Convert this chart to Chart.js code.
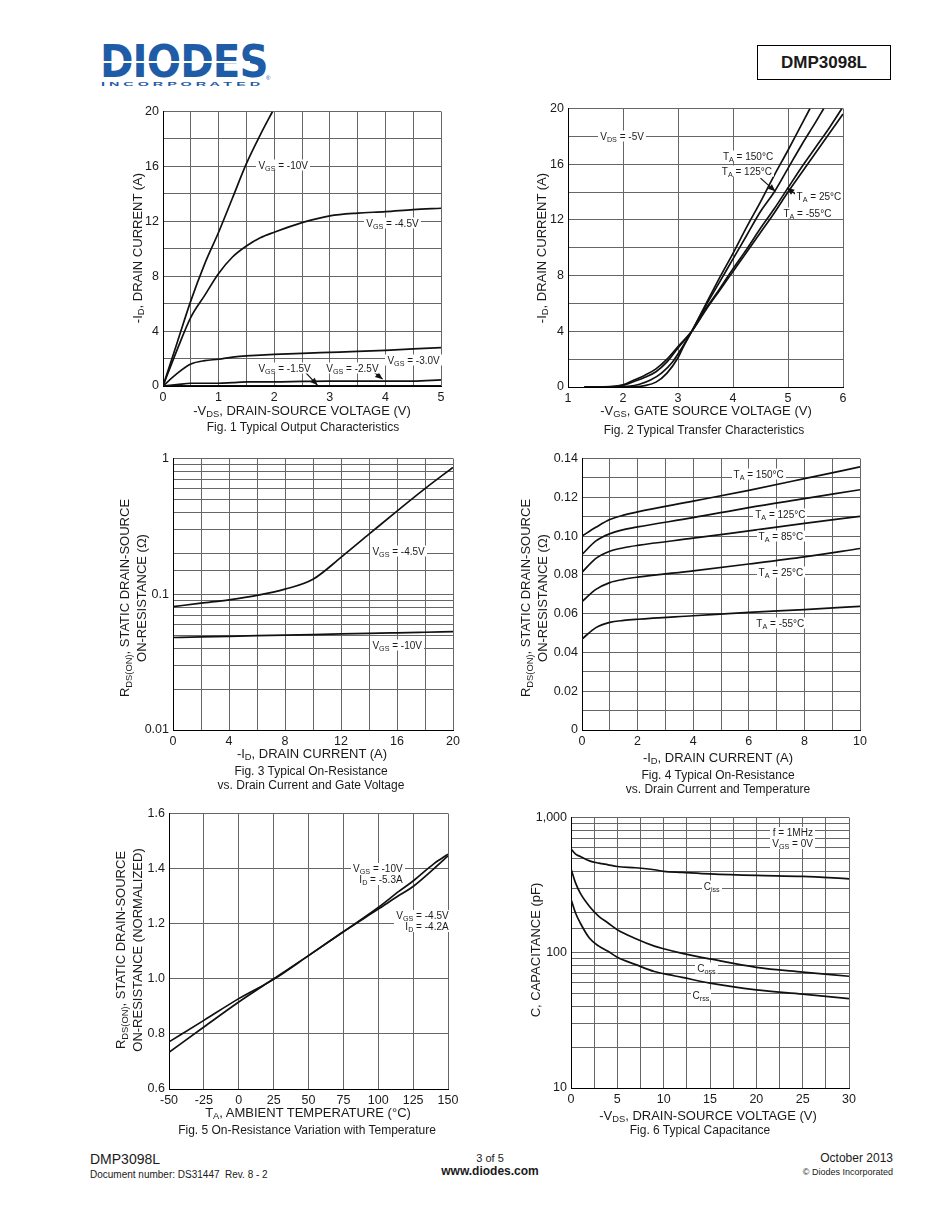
<!DOCTYPE html>
<html>
<head>
<meta charset="utf-8">
<script src="https://cdn.jsdelivr.net/npm/chart.js@4.4.0/dist/chart.umd.min.js"></script>
<style>
body { margin: 0; background: #fff; }
#page { position: relative; width: 950px; height: 1230px; font-family: "Liberation Sans", Arial, sans-serif; color: #1a1a1a; overflow: hidden; }
.t { position: absolute; white-space: nowrap; line-height: 1.15; }
canvas { position: absolute; }
.ann { position: absolute; font-size: 10px; background: #fff; padding: 0 2px; white-space: nowrap; line-height: 11px; }
sub { font-size: 0.72em; vertical-align: -0.3em; line-height: 0; }
</style>
</head>
<body>
<div id="page"></div>
<script>
// ---- Fig. 1 Typical Output Characteristics ----
const fig1VdsA = [0, 0.25, 0.5, 0.75, 1, 1.25, 1.5, 1.75, 1.97];
const fig1Id10 = [0, 3.1, 6.2, 8.9, 11.2, 13.7, 16.2, 18.3, 20];
const fig1Vds = [0, 0.25, 0.5, 0.75, 1, 1.25, 1.5, 1.75, 2, 2.5, 3, 3.5, 4, 4.5, 5];
const fig1Id45 = [0, 2.6, 5.0, 6.6, 8.2, 9.4, 10.2, 10.8, 11.2, 11.9, 12.4, 12.6, 12.7, 12.85, 12.95];
const fig1Id30 = [0, 0.9, 1.6, 1.85, 1.95, 2.1, 2.2, 2.25, 2.3, 2.38, 2.45, 2.52, 2.6, 2.7, 2.8];
const fig1Id25 = [0, 0.1, 0.2, 0.2, 0.2, 0.25, 0.3, 0.3, 0.3, 0.33, 0.35, 0.35, 0.35, 0.36, 0.45];
const fig1Id15 = [0, 0.01, 0.01, 0.01, 0.01, 0.01, 0.01, 0.01, 0.01, 0.01, 0.01, 0.01, 0.01, 0.01, 0.01];

// ---- Fig. 2 Typical Transfer Characteristics ----
const fig2Vgs150 = [1.3, 1.8, 2.2, 2.4, 2.6, 2.8, 3.0, 3.1, 3.25, 3.5, 3.75, 4.0, 4.25, 4.5, 4.75, 5.0, 5.2, 5.4];
const fig2Id150 = [0, 0, 0.02, 0.1, 0.35, 1.0, 2.1, 2.9, 4.0, 5.9, 7.8, 9.6, 11.5, 13.3, 15.2, 17.0, 18.5, 20];
const fig2Vgs125 = [1.3, 1.8, 2.1, 2.3, 2.5, 2.7, 2.9, 3.1, 3.25, 3.5, 3.75, 4.0, 4.25, 4.5, 4.75, 5.0, 5.25, 5.5, 5.65];
const fig2Id125 = [0, 0, 0.05, 0.2, 0.5, 1.0, 1.8, 3.0, 4.0, 5.8, 7.5, 9.2, 10.9, 12.6, 14.0, 15.7, 17.4, 19.0, 20];
const fig2Vgs25 = [1.3, 1.8, 2.0, 2.2, 2.4, 2.6, 2.8, 3.0, 3.25, 3.5, 3.75, 4.0, 4.25, 4.5, 4.75, 5.0, 5.25, 5.5, 5.75, 5.98];
const fig2Id25 = [0, 0.02, 0.12, 0.4, 0.7, 1.1, 1.8, 2.8, 4.0, 5.6, 7.0, 8.5, 9.9, 11.4, 12.8, 14.3, 15.8, 17.2, 18.6, 20];
const fig2VgsM55 = [1.3, 1.8, 2.0, 2.2, 2.4, 2.6, 2.8, 3.0, 3.25, 3.5, 3.75, 4.0, 4.25, 4.5, 4.75, 5.0, 5.25, 5.5, 5.75, 6.0];
const fig2IdM55 = [0, 0.03, 0.15, 0.5, 0.85, 1.3, 2.0, 2.9, 4.0, 5.5, 6.9, 8.3, 9.7, 11.1, 12.5, 14.0, 15.4, 16.8, 18.2, 19.6];

// ---- Fig. 3 On-Resistance vs Drain Current and Gate Voltage ----
const fig3Id = [0, 2, 4, 6, 8, 10, 12, 14, 16, 18, 20];
const fig3R45 = [0.081, 0.086, 0.091, 0.098, 0.109, 0.129, 0.187, 0.277, 0.41, 0.60, 0.86];
const fig3R10 = [0.048, 0.0485, 0.049, 0.0495, 0.050, 0.0505, 0.051, 0.0515, 0.052, 0.0525, 0.053];

// ---- Fig. 4 On-Resistance vs Drain Current and Temperature ----
const fig4Id = [0, 0.5, 1, 1.5, 2, 4, 6, 8, 10];
const fig4R150 = [0.100, 0.1045, 0.1085, 0.1108, 0.1125, 0.118, 0.1236, 0.1296, 0.1357];
const fig4R125 = [0.0905, 0.0975, 0.1012, 0.1033, 0.1047, 0.1095, 0.1147, 0.1193, 0.1239];
const fig4R85 = [0.0813, 0.0885, 0.0922, 0.094, 0.0952, 0.0989, 0.1027, 0.1065, 0.1102];
const fig4R25 = [0.0662, 0.0725, 0.076, 0.0777, 0.0788, 0.0821, 0.0856, 0.0893, 0.0936];
const fig4RM55 = [0.0469, 0.0528, 0.0555, 0.0565, 0.0571, 0.0589, 0.0607, 0.0621, 0.0638];

// ---- Fig. 5 On-Resistance Variation with Temperature ----
const fig5Temp = [-50, -25, 0, 25, 50, 75, 100, 115, 125, 140, 150];
const fig5R10 = [0.771, 0.849, 0.928, 0.998, 1.084, 1.171, 1.259, 1.318, 1.355, 1.418, 1.452];
const fig5R45 = [0.733, 0.825, 0.916, 1.0, 1.084, 1.171, 1.253, 1.303, 1.335, 1.40, 1.446];

// ---- Fig. 6 Typical Capacitance ----
const fig6Vds = [0, 0.5, 1, 2, 3, 4, 5, 7, 9, 10, 12, 15, 20, 25, 30];
const fig6Ciss = [587, 536, 515, 478, 460, 447, 434, 425, 411, 400, 393, 383, 373, 367, 352];
const fig6Coss = [418, 327, 276, 220, 186, 166, 148, 127, 112, 107, 99, 90, 78, 72, 67];
const fig6Crss = [249, 196, 166, 128, 112, 102.6, 92.6, 81.7, 72.6, 70, 65.7, 59.6, 53.2, 49.5, 45.8];

const page = document.getElementById('page');
const TICK_FONT = { family: 'Liberation Sans, Arial, sans-serif', size: 12.5 };
const GRID = '#666';

function txt(html, x, y, size, anchor, extra) {
    const d = document.createElement('div');
    d.className = 't';
    d.innerHTML = html;
    d.style.left = x + 'px';
    d.style.top = y + 'px';
    d.style.fontSize = size + 'px';
    let tr = 'translateY(-50%)';
    if (anchor === 'c') tr = 'translate(-50%,-50%)';
    if (anchor === 'r') tr = 'translate(-100%,-50%)';
    if (anchor === 'v') { tr = 'translate(-50%,-50%) rotate(-90deg)'; d.style.textAlign = 'center'; d.style.lineHeight = '17px'; }
    d.style.transform = tr;
    if (extra) Object.assign(d.style, extra);
    page.appendChild(d);
    return d;
}

const near = (v, s) => Math.abs(v / s - Math.round(v / s)) < 1e-6;
const isDecade = v => near(Math.log10(v), 1);

function zip(xs, ys) { return xs.map((x, i) => ({ x: x, y: ys[i] })); }

function plot(o) {
    const W = o.r - o.l + 70, H = o.b - o.t + 32;
    const cv = document.createElement('canvas');
    cv.width = W; cv.height = H;
    cv.style.left = (o.l - 55) + 'px';
    cv.style.top = (o.t - 10) + 'px';
    page.appendChild(cv);

    const arrowPlugin = {
        id: 'arrows',
        afterDatasetsDraw(c) {
            const g = c.ctx, sx = c.scales.x, sy = c.scales.y;
            g.save();
            g.strokeStyle = '#111'; g.fillStyle = '#111'; g.lineWidth = 1.2;
            (o.arrows || []).forEach(a => {
                const x1 = sx.getPixelForValue(a[0]), y1 = sy.getPixelForValue(a[1]);
                const x2 = sx.getPixelForValue(a[2]), y2 = sy.getPixelForValue(a[3]);
                const ang = Math.atan2(y2 - y1, x2 - x1);
                g.beginPath(); g.moveTo(x1, y1); g.lineTo(x2, y2); g.stroke();
                g.beginPath();
                g.moveTo(x2, y2);
                g.lineTo(x2 - 8 * Math.cos(ang - 0.4), y2 - 8 * Math.sin(ang - 0.4));
                g.lineTo(x2 - 8 * Math.cos(ang + 0.4), y2 - 8 * Math.sin(ang + 0.4));
                g.closePath(); g.fill();
            });
            g.restore();
        }
    };

    const axis = (a, fit) => Object.assign({
        grid: { color: GRID, lineWidth: 1, drawTicks: false },
        border: { color: '#000', width: 1 },
        afterFit: fit
    }, a, {
        ticks: Object.assign({ font: TICK_FONT, color: '#1a1a1a', padding: 4, autoSkip: false, maxRotation: 0 }, a.ticks)
    });

    const chart = new Chart(cv, {
        type: 'line',
        data: {
            datasets: o.series.map(s => ({
                data: zip(s[0], s[1]),
                borderColor: '#111',
                borderWidth: 1.7,
                pointRadius: 0,
                cubicInterpolationMode: 'monotone',
                fill: false
            }))
        },
        options: {
            responsive: false,
            animation: false,
            layout: { padding: { top: 10, right: 15, left: 0, bottom: 0 } },
            plugins: { legend: { display: false }, tooltip: { enabled: false } },
            scales: {
                x: axis(o.x, s => { s.height = 22; }),
                y: axis(o.y, s => { s.width = 55; })
            }
        },
        plugins: [arrowPlugin]
    });

    const ox = o.l - 55, oy = o.t - 10;
    (o.notes || []).forEach(n => {
        const d = document.createElement('div');
        d.className = 'ann';
        d.innerHTML = n[2];
        d.style.left = (ox + chart.scales.x.getPixelForValue(n[0])) + 'px';
        d.style.top = (oy + chart.scales.y.getPixelForValue(n[1])) + 'px';
        d.style.transform = 'translateY(-50%)';
        if (n[3]) d.style.textAlign = n[3];
        page.appendChild(d);
    });
    return chart;
}

// Fig. 1
plot({
    l: 163, t: 110, r: 441, b: 386,
    x: { type: 'linear', min: 0, max: 5, ticks: { stepSize: 0.5, callback: v => near(v, 1) ? Math.round(v) : '' } },
    y: { type: 'linear', min: 0, max: 20, ticks: { stepSize: 2, callback: v => near(v, 4) ? Math.round(v) : '' } },
    series: [[fig1VdsA, fig1Id10], [fig1Vds, fig1Id45], [fig1Vds, fig1Id30], [fig1Vds, fig1Id25], [fig1Vds, fig1Id15]],
    notes: [
        [1.68, 16.1, 'V<sub>GS</sub> = -10V'],
        [3.62, 11.85, 'V<sub>GS</sub> = -4.5V'],
        [4.0, 1.9, 'V<sub>GS</sub> = -3.0V'],
        [1.68, 1.3, 'V<sub>GS</sub> = -1.5V'],
        [2.9, 1.3, 'V<sub>GS</sub> = -2.5V']
    ],
    arrows: [[2.55, 1.05, 2.78, 0.05], [3.78, 1.05, 3.95, 0.5]]
});

// Fig. 2
plot({
    l: 568, t: 107, r: 843, b: 387,
    x: { type: 'linear', min: 1, max: 6, ticks: { stepSize: 1 } },
    y: { type: 'linear', min: 0, max: 20, ticks: { stepSize: 2, callback: v => near(v, 4) ? Math.round(v) : '' } },
    series: [[fig2Vgs150, fig2Id150], [fig2Vgs125, fig2Id125], [fig2Vgs25, fig2Id25], [fig2VgsM55, fig2IdM55]],
    notes: [
        [1.55, 18.0, 'V<sub>DS</sub> = -5V'],
        [3.78, 16.6, 'T<sub>A</sub> = 150°C'],
        [3.76, 15.5, 'T<sub>A</sub> = 125°C'],
        [5.12, 13.7, 'T<sub>A</sub> = 25°C'],
        [4.88, 12.5, 'T<sub>A</sub> = -55°C']
    ],
    arrows: [[4.5, 15.0, 4.77, 14.05], [5.15, 13.8, 4.98, 14.3]]
});

// Fig. 3
plot({
    l: 173, t: 457, r: 453, b: 730,
    x: { type: 'linear', min: 0, max: 20, ticks: { stepSize: 2, callback: v => near(v, 4) ? Math.round(v) : '' } },
    y: { type: 'logarithmic', min: 0.01, max: 1, ticks: { callback: v => isDecade(v) ? String(+v.toPrecision(1)) : '' } },
    series: [[fig3Id, fig3R45], [fig3Id, fig3R10]],
    notes: [
        [14.1, 0.207, 'V<sub>GS</sub> = -4.5V'],
        [14.1, 0.042, 'V<sub>GS</sub> = -10V']
    ]
});

// Fig. 4
plot({
    l: 582, t: 457, r: 860, b: 730,
    x: { type: 'linear', min: 0, max: 10, ticks: { stepSize: 1, callback: v => near(v, 2) ? Math.round(v) : '' } },
    y: { type: 'linear', min: 0, max: 0.14, ticks: { stepSize: 0.01, callback: v => near(v, 0.02) ? (Math.abs(v) < 1e-9 ? '0' : v.toFixed(2)) : '' } },
    series: [[fig4Id, fig4R150], [fig4Id, fig4R125], [fig4Id, fig4R85], [fig4Id, fig4R25], [fig4Id, fig4RM55]],
    notes: [
        [5.38, 0.132, 'T<sub>A</sub> = 150°C'],
        [6.16, 0.1116, 'T<sub>A</sub> = 125°C'],
        [6.28, 0.0999, 'T<sub>A</sub> = 85°C'],
        [6.28, 0.0813, 'T<sub>A</sub> = 25°C'],
        [6.2, 0.0551, 'T<sub>A</sub> = -55°C']
    ]
});

// Fig. 5
plot({
    l: 169, t: 812, r: 448, b: 1089,
    x: { type: 'linear', min: -50, max: 150, ticks: { stepSize: 25 } },
    y: { type: 'linear', min: 0.6, max: 1.6, ticks: { stepSize: 0.2, callback: v => v.toFixed(1) } },
    series: [[fig5Temp, fig5R10], [fig5Temp, fig5R45]],
    notes: [
        [80.5, 1.38, 'V<sub>GS</sub> = -10V<br>I<sub>D</sub> = -5.3A', 'right'],
        [111.5, 1.21, 'V<sub>GS</sub> = -4.5V<br>I<sub>D</sub> = -4.2A', 'right']
    ]
});

// Fig. 6
plot({
    l: 571, t: 816, r: 849, b: 1088,
    x: { type: 'linear', min: 0, max: 30, ticks: { stepSize: 2.5, callback: v => near(v, 5) ? Math.round(v) : '' } },
    y: { type: 'logarithmic', min: 10, max: 1000, ticks: { callback: v => isDecade(v) ? (v >= 1000 ? '1,000' : String(Math.round(v))) : '' } },
    series: [[fig6Vds, fig6Ciss], [fig6Vds, fig6Coss], [fig6Vds, fig6Crss]],
    notes: [
        [21.5, 700, 'f = 1MHz<br>V<sub>GS</sub> = 0V', 'right'],
        [14.1, 309, 'C<sub>iss</sub>'],
        [13.4, 77, 'C<sub>oss</sub>'],
        [12.9, 49, 'C<sub>rss</sub>']
    ]
});

// axis titles and captions
txt('-V<sub>DS</sub>, DRAIN-SOURCE VOLTAGE (V)', 302, 411, 13, 'c');
txt('Fig. 1 Typical Output Characteristics', 303, 428, 12, 'c');
txt('-I<sub>D</sub>, DRAIN CURRENT (A)', 137, 248, 13, 'v');

txt('-V<sub>GS</sub>, GATE SOURCE VOLTAGE (V)', 706, 411, 13, 'c');
txt('Fig. 2 Typical Transfer Characteristics', 704, 431, 12, 'c');
txt('-I<sub>D</sub>, DRAIN CURRENT (A)', 541, 248, 13, 'v');

txt('R<sub>DS(ON)</sub>, STATIC DRAIN-SOURCE<br>ON-RESISTANCE (Ω)', 133, 598, 13, 'v');
txt('-I<sub>D</sub>, DRAIN CURRENT (A)', 312, 754, 13, 'c');
txt('Fig. 3 Typical On-Resistance', 311, 772, 12, 'c');
txt('vs. Drain Current and Gate Voltage', 311, 786, 12, 'c');

txt('R<sub>DS(ON)</sub>, STATIC DRAIN-SOURCE<br>ON-RESISTANCE (Ω)', 534, 598, 13, 'v');
txt('-I<sub>D</sub>, DRAIN CURRENT (A)', 718, 758, 13, 'c');
txt('Fig. 4 Typical On-Resistance', 718, 776, 12, 'c');
txt('vs. Drain Current and Temperature', 718, 790, 12, 'c');

txt('R<sub>DS(ON)</sub>, STATIC DRAIN-SOURCE<br>ON-RESISTANCE (NORMALIZED)', 129, 950, 13, 'v');
txt('T<sub>A</sub>, AMBIENT TEMPERATURE (°C)', 308, 1113, 13, 'c');
txt('Fig. 5 On-Resistance Variation with Temperature', 307, 1131, 12, 'c');

txt('C, CAPACITANCE (pF)', 535, 950, 13, 'v');
txt('-V<sub>DS</sub>, DRAIN-SOURCE VOLTAGE (V)', 708, 1116, 13, 'c');
txt('Fig. 6 Typical Capacitance', 700, 1131, 12, 'c');

// header
const logo = txt('DIODES', 100, 62, 44, 'l', { fontFamily: '"DejaVu Sans", sans-serif', fontWeight: 'bold', color: '#1f5ca8', transformOrigin: '0 50%', letterSpacing: '-1px' });
logo.style.transform = 'translateY(-50%) scale(' + (168 / logo.offsetWidth) + ',1)';
const stripe = document.createElement('div');
Object.assign(stripe.style, { position: 'absolute', left: '100px', top: '61px', width: '150px', height: '2px', background: '#fff' });
page.appendChild(stripe);
const inc = txt('I N C O R P O R A T E D', 101, 84, 6, 'l', { fontWeight: 'bold', color: '#1f5ca8', transformOrigin: '0 50%' });
inc.style.transform = 'translateY(-50%) scale(' + (158 / inc.offsetWidth) + ',1)';
txt('®', 266, 78, 6, 'l', { color: '#1f5ca8' });
const box = document.createElement('div');
Object.assign(box.style, { position: 'absolute', left: '757px', top: '45px', width: '132px', height: '33px', border: '1.5px solid #000', fontWeight: 'bold', fontSize: '17px', textAlign: 'center', lineHeight: '33px' });
box.textContent = 'DMP3098L';
page.appendChild(box);

// footer
txt('DMP3098L', 90, 1159, 14, 'l');
txt('Document number: DS31447&nbsp; Rev. 8 - 2', 90, 1175, 10, 'l');
txt('3 of 5', 490, 1158, 11, 'c');
txt('<b>www.diodes.com</b>', 490, 1172, 12, 'c');
txt('October 2013', 893, 1159, 12, 'r');
txt('© Diodes Incorporated', 893, 1172, 9, 'r');
</script>
</body>
</html>
